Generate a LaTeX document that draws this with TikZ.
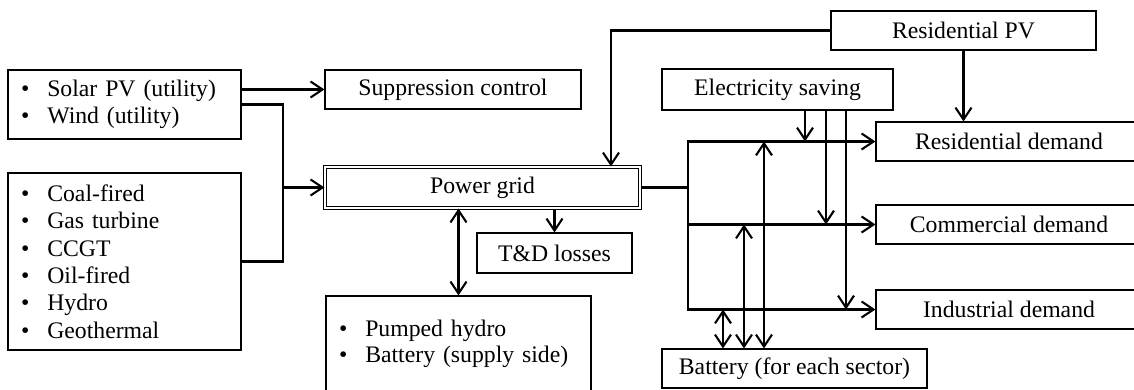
\documentclass[tikz,border=0pt]{standalone}
\usepackage{fontspec}
\setmainfont{Liberation Serif}
\usetikzlibrary{arrows.meta,positioning,calc}
\newcommand{\bitem}[1]{\textbullet\hspace{0.36cm}#1}
\tikzset{
  box/.style={draw, line width=0.6pt, minimum height=0.78cm, inner sep=0pt, font=\fontsize{13.5}{15}\selectfont},
  listbox/.style={box, align=left, inner xsep=0.26cm},
  flow/.style={line width=1.2pt},
  arr/.style={flow, -{Straight Barb[length=2.4mm,width=3.2mm]}},
  dbl/.style={flow, {Straight Barb[length=2.4mm,width=3.2mm]}-{Straight Barb[length=2.4mm,width=3.2mm]}}
}
\begin{document}
\begin{tikzpicture}
            \useasboundingbox (0,0) rectangle (22.68,-7.8);
            \node[listbox, text width=4.14cm, minimum height=1.38cm] (ren) at (2.49,-2.09) {\bitem{Solar PV (utility)}\\ \bitem{Wind (utility)}};
            \node[listbox, text width=4.14cm, minimum height=3.54cm, font=\fontsize{13.5}{15.6}\selectfont] (therm) at (2.49,-5.23) {\bitem{Coal-fired}\\ \bitem{Gas turbine}\\ \bitem{CCGT}\\ \bitem{Oil-fired}\\ \bitem{Hydro}\\ \bitem{Geothermal}};
            \node[box, minimum width=5.12cm] (supp) at (9.06,-1.79) {Suppression control};
            \node[box, minimum width=6.3cm, minimum height=0.82cm, double, double distance=1.4pt] (grid) at (9.65,-3.75) {Power grid};
            \node[box, minimum width=3.1cm, minimum height=0.8cm] (td) at (11.09,-5.06) {T\&D losses};
            \node[listbox, text width=4.78cm, minimum height=1.92cm] (pump) at (9.17,-6.88) {\bitem{Pumped hydro}\\ \bitem{Battery (supply side)}};
            \node[box, minimum width=5.3cm] (rpv) at (19.27,-0.61) {Residential PV};
            \node[box, minimum width=4.62cm, minimum height=0.82cm] (save) at (15.55,-1.79) {Electricity saving};
            \node[box, minimum width=5.32cm] (res) at (20.18,-2.83) {Residential demand};
            \node[box, minimum width=5.32cm] (com) at (20.18,-4.49) {Commercial demand};
            \node[box, minimum width=5.32cm] (ind) at (20.18,-6.19) {Industrial demand};
            \node[box, minimum width=5.3cm] (bat) at (15.89,-7.37) {Battery (for each sector)};
            \coordinate (split) at (5.66,-3.75);
            \coordinate (pvin) at (12.22,0);
            \coordinate (bus) at (13.76,-3.75);
            \draw[arr] (ren.east |- supp.west) -- (supp.west);
            \draw[flow] (ren.east) -| (split) |- (therm.east);
            \draw[arr] (split) -- (grid.west);
            \draw[arr] (rpv.west) -| (pvin |- grid.north);
            \draw[arr] (rpv.south) -- (rpv.south |- res.north);
            \draw[flow] (grid.east) -- (bus);
            \draw[arr] (bus) |- (res.west);
            \draw[arr] (bus) |- (ind.west);
            \draw[arr] (bus |- com.west) -- (com.west);
            \draw[arr] (td.north |- grid.south) -- (td.north);
            \draw[dbl] (pump.north |- grid.south) -- (pump.north);
            \foreach \x/\tgt in {16.10/res, 16.52/com, 16.92/ind}
              \draw[arr] (\x,0 |- save.south) -- (\x,0 |- \tgt.west);
            \foreach \x/\tgt in {14.46/ind, 14.88/com, 15.28/res}
              \draw[dbl] (\x,0 |- \tgt.west) -- (\x,0 |- bat.north);
        \end{tikzpicture}
\end{document}
